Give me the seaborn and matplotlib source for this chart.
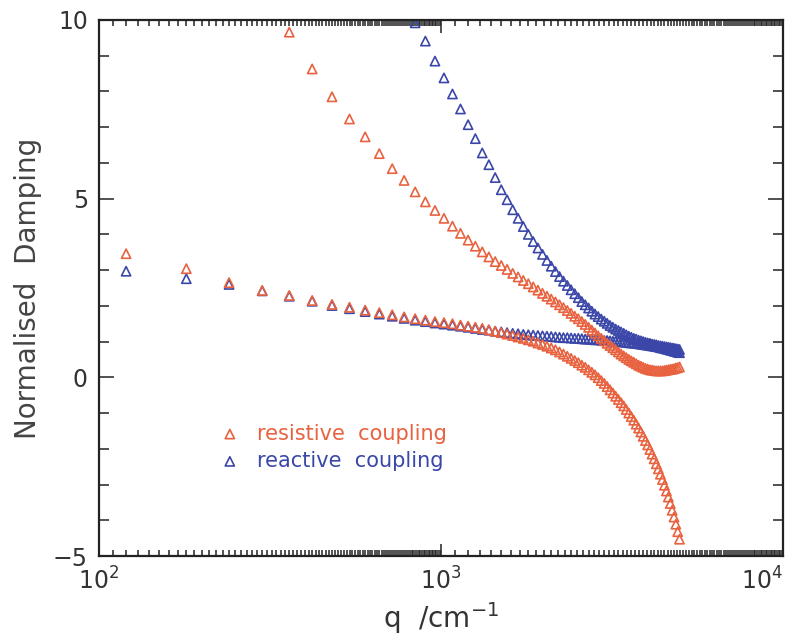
import numpy as np
import pandas as pd
import matplotlib
matplotlib.use("Agg")
import matplotlib.pyplot as plt
import matplotlib.ticker as mticker
import seaborn as sns

# wavenumber grid (cm^-1) shared by all branches
q_all = [120, 180, 240, 300, 360, 420, 480, 540, 600, 660,
         720, 780, 840, 900, 960, 1020, 1080, 1140, 1200, 1260,
         1320, 1380, 1440, 1500, 1560, 1620, 1680, 1740, 1800, 1860,
         1920, 1980, 2040, 2100, 2160, 2220, 2280, 2340, 2400, 2460,
         2520, 2580, 2640, 2700, 2760, 2820, 2880, 2940, 3000, 3060,
         3120, 3180, 3240, 3300, 3360, 3420, 3480, 3540, 3600, 3660,
         3720, 3780, 3840, 3900, 3960, 4020, 4080, 4140, 4200, 4260,
         4320, 4380, 4440, 4500, 4560, 4620, 4680, 4740, 4800, 4860,
         4920, 4980]

# resistive coupling, lower branch (q = 120 ... 4980)
res_low = [3.46, 3.04, 2.65, 2.43, 2.29, 2.15, 2.04, 1.96, 1.88, 1.81,
           1.75, 1.69, 1.64, 1.60, 1.56, 1.53, 1.50, 1.46, 1.43, 1.40,
           1.37, 1.33, 1.29, 1.25, 1.21, 1.17, 1.13, 1.09, 1.05, 1.01,
           0.96, 0.92, 0.87, 0.82, 0.77, 0.71, 0.65, 0.59, 0.53, 0.47,
           0.41, 0.34, 0.28, 0.21, 0.14, 0.07, -0.01, -0.09, -0.17, -0.26,
           -0.35, -0.44, -0.53, -0.62, -0.71, -0.80, -0.90, -1.00, -1.10, -1.20,
           -1.31, -1.42, -1.53, -1.65, -1.77, -1.89, -2.02, -2.15, -2.28, -2.42,
           -2.56, -2.71, -2.86, -3.02, -3.18, -3.35, -3.53, -3.72, -3.91, -4.11,
           -4.32, -4.53]

# resistive coupling, upper branch (q = 360 ... 4980)
res_high = [9.66, 8.63, 7.85, 7.23, 6.73, 6.26,
            5.84, 5.51, 5.19, 4.91, 4.67, 4.45, 4.23, 4.03, 3.84, 3.67,
            3.51, 3.37, 3.24, 3.13, 3.02, 2.91, 2.81, 2.71, 2.62, 2.53,
            2.44, 2.35, 2.27, 2.19, 2.11, 2.03, 1.95, 1.87, 1.79, 1.71,
            1.64, 1.56, 1.48, 1.40, 1.32, 1.24, 1.16, 1.09, 1.02, 0.95,
            0.89, 0.83, 0.77, 0.71, 0.65, 0.60, 0.55, 0.50, 0.46, 0.42,
            0.38, 0.34, 0.31, 0.28, 0.25, 0.23, 0.21, 0.20, 0.19, 0.18,
            0.18, 0.18, 0.18, 0.19, 0.20, 0.21, 0.22, 0.23, 0.24, 0.26,
            0.27, 0.29]

# reactive coupling, lower branch (q = 120 ... 4980)
rea_low = [2.97, 2.76, 2.60, 2.42, 2.27, 2.13, 2.01, 1.92, 1.84, 1.77,
           1.71, 1.65, 1.60, 1.56, 1.52, 1.49, 1.46, 1.43, 1.40, 1.37,
           1.34, 1.32, 1.29, 1.27, 1.25, 1.23, 1.22, 1.20, 1.19, 1.18,
           1.17, 1.16, 1.15, 1.14, 1.13, 1.12, 1.11, 1.11, 1.10, 1.09,
           1.09, 1.08, 1.07, 1.07, 1.06, 1.05, 1.05, 1.04, 1.03, 1.03,
           1.02, 1.01, 1.01, 1.00, 0.99, 0.99, 0.98, 0.97, 0.96, 0.96,
           0.95, 0.94, 0.93, 0.92, 0.91, 0.90, 0.89, 0.88, 0.87, 0.86,
           0.85, 0.83, 0.82, 0.81, 0.79, 0.78, 0.76, 0.75, 0.73, 0.72,
           0.70, 0.69]

# reactive coupling, upper branch (q = 840 ... 4980)
rea_high = [9.92, 9.41, 8.85, 8.38, 7.93, 7.51, 7.07, 6.68,
            6.28, 5.95, 5.59, 5.25, 4.97, 4.69, 4.45, 4.22, 4.00, 3.80,
            3.62, 3.44, 3.27, 3.11, 2.96, 2.82, 2.69, 2.57, 2.45, 2.34,
            2.23, 2.12, 2.03, 1.94, 1.85, 1.77, 1.70, 1.63, 1.57, 1.51,
            1.45, 1.40, 1.35, 1.31, 1.27, 1.23, 1.19, 1.15, 1.12, 1.09,
            1.07, 1.04, 1.02, 1.00, 0.98, 0.96, 0.95, 0.93, 0.92, 0.91,
            0.89, 0.88, 0.87, 0.86, 0.85, 0.84, 0.83, 0.82, 0.81, 0.80,
            0.79, 0.78]

labels = ["resistive  coupling", "reactive  coupling"]
colors = ["#e8623f", "#3b47a8"]
x_major = [100, 1000, 10000]
y_major = [-5, 0, 5, 10]


def branch_frame(lo, hi, name):
    a = pd.DataFrame({"q": q_all, "damping": lo})
    b = pd.DataFrame({"q": q_all[len(q_all) - len(hi):], "damping": hi})
    df = pd.concat([a, b], ignore_index=True)
    df["coupling"] = name
    return df


frames = [branch_frame(res_low, res_high, labels[0]),
          branch_frame(rea_low, rea_high, labels[1])]

sns.set_style("ticks")
plt.rcParams["font.family"] = ["DejaVu Sans"]

fig = plt.figure(figsize=(7.96, 6.43), dpi=100)
ax = fig.add_axes([0.1244, 0.1353, 0.8593, 0.8336])

# reactive first so the resistive triangles sit on top, as in the original
for i in [1, 0]:
    sns.scatterplot(data=frames[i], x="q", y="damping", ax=ax, marker="^", s=44,
                    color=colors[i], facecolor="none", edgecolor=colors[i],
                    linewidth=1.2, label=labels[i])

ax.set_xscale("log")
ax.set_xticks(x_major)
ax.set_yticks(y_major)
ax.set_xlim(100, 10000)
ax.set_ylim(-5, 10)
ax.yaxis.set_minor_locator(mticker.MultipleLocator(1))
ax.xaxis.set_minor_locator(mticker.LogLocator(base=10, subs=np.arange(1.1, 10.0, 0.1), numticks=100))
ax.xaxis.set_minor_formatter(mticker.NullFormatter())

ax.tick_params(which="both", direction="in", top=True, right=True, width=1.1, colors="#222222")
ax.tick_params(axis="both", which="major", labelsize=17, pad=8, labelcolor="#333333")
ax.tick_params(axis="x", which="major", length=9)
ax.tick_params(axis="x", which="minor", length=4)
ax.tick_params(axis="y", which="major", length=11)
ax.tick_params(axis="y", which="minor", length=7)
for sp in ax.spines.values():
    sp.set_linewidth(1.6)
    sp.set_color("#222222")

# keep the 10^4 label inside the canvas
ax.xaxis.get_major_ticks()[-1].label1.set_horizontalalignment("right")

ax.set_xlabel("q  /cm$^{-1}$", fontsize=20, color="#333333", labelpad=4)
ax.set_ylabel("Normalised  Damping", fontsize=20, color="#444444", labelpad=8)

handles, labs = ax.get_legend_handles_labels()
order = [labs.index(l) for l in labels]
leg = ax.legend([handles[k] for k in order], [labs[k] for k in order],
                loc="center left", bbox_to_anchor=(0.176, 0.203), frameon=False,
                fontsize=15, handlelength=1.0, handletextpad=0.8,
                borderpad=0, borderaxespad=0, labelspacing=0.35)
for txt, c in zip(leg.get_texts(), colors):
    txt.set_color(c)

fig.savefig("out.png", dpi=100)
